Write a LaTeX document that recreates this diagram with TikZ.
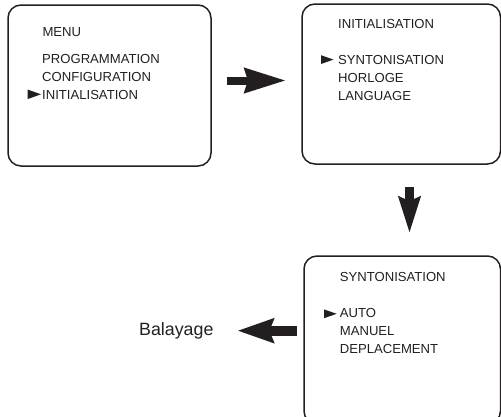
\documentclass[tikz,border=0pt]{standalone}
\usepackage{fontspec}
\setmainfont{Liberation Sans}
\usetikzlibrary{arrows.meta}
\definecolor{ink}{HTML}{231F20}
\tikzset{
  screen/.style={draw=ink, line width=1.5pt, rounded corners=13pt},
  menutxt/.style={anchor=base west, inner sep=0pt, text=ink, font=\fontsize{13.1pt}{15pt}\selectfont},
  bigtxt/.style={anchor=base west, inner sep=0pt, text=ink, font=\fontsize{17.8pt}{20pt}\selectfont},
  marker/.style={fill=ink},
}
\begin{document}
\begin{tikzpicture}[x=1pt, y=-1pt]
\useasboundingbox (0,0) rectangle (501,416);
% screens
\draw[screen] (8,5) rectangle (211,166);
\draw[screen] (302,4) rectangle (500.5,164);
\draw[screen] (304,256) rectangle (500.5,424);
% box 1 text
\node[menutxt] (menu) at (42.3,36.7) {MENU};
\node[menutxt] (prog) at (42,63.8) {PROGRAMMATION};
\node[menutxt] (conf) at (42,81.8) {CONFIGURATION};
\node[menutxt] (init) at (42,99.5) {INITIALISATION};
\fill[marker] (27.5,89.5) -- (41,94.3) -- (27.5,99.1) -- cycle;
% box 2 text
\node[menutxt] (inith) at (338,28.3) {INITIALISATION};
\node[menutxt] (synt) at (338,64) {SYNTONISATION};
\node[menutxt] (horl) at (338,82.3) {HORLOGE};
\node[menutxt] (lang) at (338,100.5) {LANGUAGE};
\fill[marker] (321,55.2) -- (333.5,59.6) -- (321,64) -- cycle;
% box 3 text
\node[menutxt] (synth) at (339.7,281.7) {SYNTONISATION};
\node[menutxt] (auto) at (339.7,317.3) {AUTO};
\node[menutxt] (manu) at (339.7,335.5) {MANUEL};
\node[menutxt] (depl) at (339.7,353.3) {DEPLACEMENT};
\fill[marker] (324,309.4) -- (336.7,313.8) -- (324,318.2) -- cycle;
% Balayage
\node[bigtxt] (bal) at (139,335) {Balayage};
% block arrows
\coordinate (a1s) at (227,80.5);
\coordinate (a1e) at (286,80.5);
\coordinate (a2s) at (409.5,187.3);
\coordinate (a2e) at (409.5,233.3);
\coordinate (a3s) at (297,330.7);
\coordinate (a3e) at (237.3,330.7);
\draw[ink, line width=8pt, -{Stealth[length=41pt, width=24pt, inset=3pt]}] (a1s) -- (a1e);
\draw[ink, line width=9pt, -{Stealth[length=36pt, width=21pt, inset=4pt]}] (a2s) -- (a2e);
\draw[ink, line width=10pt, -{Stealth[length=36pt, width=23.5pt, inset=4pt]}] (a3s) -- (a3e);
\end{tikzpicture}
\end{document}
